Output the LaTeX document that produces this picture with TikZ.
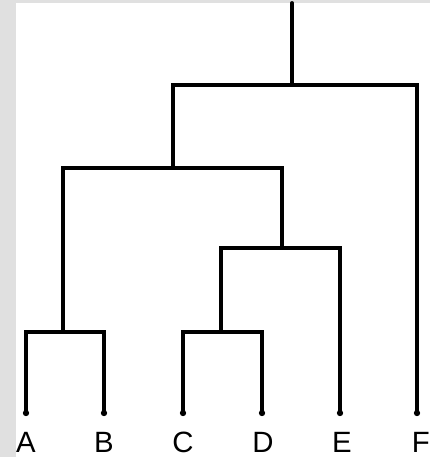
\documentclass[tikz,border=0pt]{standalone}
\usepackage{fontspec}
\setmainfont{Liberation Sans}
\usepackage{tikz}
\usetikzlibrary{positioning}

\begin{document}
\begin{tikzpicture}[
  x=0.02cm, y=-0.02cm,
  branch/.style={line width=2.2pt, line cap=round, line join=miter},
  tip/.style={circle, fill=black, inner sep=0pt, minimum size=3.6pt},
  leaf/.style={inner sep=0pt, text height=12pt, text depth=0pt,
    font=\fontsize{16.7}{18}\selectfont},
  node distance=0.3cm
]
  % page and grey frame
  \useasboundingbox (0,0) rectangle (430,457);
  \fill[black!12] (0,0) rectangle (430,457);
  \fill[white] (16,3) rectangle (430,457);

  % leaf tips (left to right)
  \node[tip] (tA) at (26,413) {};
  \node[tip] (tB) at (104,413) {};
  \node[tip] (tC) at (183,413) {};
  \node[tip] (tD) at (262,413) {};
  \node[tip] (tE) at (340,413) {};
  \node[tip] (tF) at (417,413) {};

  % leaf labels
  \node[leaf, below=of tA] (A) {A};
  \node[leaf, below=of tB] (B) {B};
  \node[leaf, below=of tC] (C) {C};
  \node[leaf, below=of tD, xshift=0.6pt] (D) {D};
  \node[leaf, below=of tE, xshift=1.1pt] (E) {E};
  \node[leaf, below=of tF, xshift=2.2pt] (F) {F};

  % merge points
  \coordinate (ab) at (63,332);
  \coordinate (cd) at (221,332);
  \coordinate (cde) at (282,248);
  \coordinate (abcde) at (173,168);
  \coordinate (all) at (292,85);
  \coordinate (root) at (292,3);

  % lowest clusters
  \draw[branch] (tA.center) |- (ab) -| (tB.center);
  \draw[branch] (tC.center) |- (cd) -| (tD.center);

  % C,D join E
  \draw[branch] (cd) |- (cde) -| (tE.center);

  % A,B join C,D,E
  \draw[branch] (ab) |- (abcde) -| (cde);

  % everything joins F
  \draw[branch] (abcde) |- (all) -| (tF.center);
  \draw[branch] (all) -- (root);
\end{tikzpicture}
\end{document}
